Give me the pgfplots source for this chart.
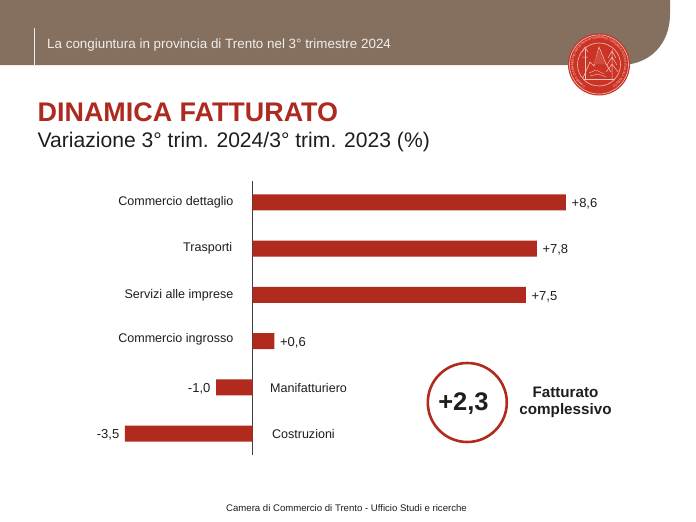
\documentclass[border=0pt]{standalone}
\usepackage{fontspec}
\setmainfont{Liberation Sans}
\usepackage{pgfplots}
\pgfplotsset{compat=1.18}
\usetikzlibrary{decorations.text}
\definecolor{brownhead}{HTML}{85705F}
\definecolor{barred}{HTML}{B02A1E}
\definecolor{sealred}{HTML}{CB3324}
\definecolor{titlered}{HTML}{AD2A20}
\definecolor{ink}{HTML}{1E1E1E}
\begin{document}
\begin{tikzpicture}
\begin{scope}[x=1pt,y=-1pt]
  \path[fill=white] (0,0) rectangle (696,522);
  % header band
  \fill[brownhead] (0,0) -- (670,0) -- (670,14) .. controls (670,44) and (650,65) .. (620,65) -- (0,65) -- cycle;
  \draw[white!85!brownhead,line width=1pt] (34.5,28) -- (34.5,65);
  \node[anchor=west,inner sep=0pt,text=white!88!brownhead,font=\fontsize{13.4}{15}\selectfont] at (47,45) {La congiuntura in provincia di Trento nel 3° trimestre 2024};
  % seal
  \fill[sealred] (599,64.5) circle (31);
  \draw[white!70!sealred,line width=.6pt] (599,64.5) circle (29.5);
  \draw[white!70!sealred,line width=.6pt] (599,64.5) circle (21.5);
  \draw[white!70!sealred,line width=.6pt] (583,78) -- (590,62) -- (594,66) -- (599,47) -- (606,64) -- (611,72);
  \fill[white!12!sealred] (594,64) -- (599,49) -- (605,64) -- cycle;
  \draw[white!70!sealred,line width=.5pt] (584,79) -- (614,79);
  \draw[white!70!sealred,line width=.6pt] (585,49) -- (585,79);
  \draw[white!70!sealred,line width=.5pt] (582,52) -- (585,47) -- (588,52) (582,57) -- (588,57);
  \draw[white!70!sealred,line width=.5pt] (612,79) -- (612,49) (608,58) -- (612,51) -- (616,58) (607,65) -- (612,57) -- (617,65) (606,72) -- (612,64) -- (618,72);
  \draw[white!70!sealred,line width=.4pt] (589,73) -- (596,70) -- (604,74) (590,76) -- (598,74) -- (606,77);
  \path[postaction={decorate,decoration={text along path,text align=center,
     text={|\fontsize{3}{3}\selectfont\color{white!85!sealred}|CAMERA DI COMMERCIO INDUSTRIA ARTIGIANATO TURISMO E AGRICOLTURA DI TRENTO}}}]
     (590.2,88.5) arc[start angle=110,end angle=430,radius=25.6];
  % titles
  \node[anchor=base west,inner sep=0pt,text=titlered,font=\fontsize{26.9}{28}\bfseries\selectfont] at (37.5,121) {DINAMICA FATTURATO};
  \node[anchor=base west,inner sep=0pt,text=ink,font=\fontsize{21.1}{24}\selectfont] at (37.5,147) {Variazione 3° trim. 2024/3° trim. 2023 (\%)};
  % total
  \draw[barred,line width=2.6pt] (467.3,402.5) circle (39.5);
  \node[text=ink,font=\fontsize{25.5}{26}\bfseries\selectfont] at (463.5,403.5) {+2,3};
  \node[text=ink,align=center,font=\fontsize{15.2}{17.5}\bfseries\selectfont] at (565.5,402.5) {Fatturato\\complessivo};
  % footer
  \node[text=ink,font=\fontsize{9.6}{12}\selectfont] at (346.5,508) {Camera di Commercio di Trento - Ufficio Studi e ricerche};
\end{scope}
\begin{axis}[
    at={(100pt,-455pt)}, anchor=south west,
    scale only axis, width=500pt, height=274pt,
    xmin=-4.184, xmax=9.534,
    ymin=-0.465, ymax=5.465, y dir=reverse,
    axis x line=none,
    axis y line=center,
    axis line style={draw=ink!85!white,line width=0.9pt,-},
    xtick=\empty, ytick=\empty,
    clip=false,
    xbar, bar width=16pt, bar shift=0pt,
    point meta=explicit symbolic,
    nodes near coords={\pgfplotspointmeta},
    every node near coord/.append style={text=ink,inner xsep=5.5pt,inner ysep=0pt,yshift=-1.5pt,
        font=\fontsize{13}{14}\selectfont},
  ]
  \addplot[fill=barred,draw=none,every node near coord/.append style={anchor=west}] coordinates {
    (8.6,0) [+8,6]
    (7.8,1) [+7,8]
    (7.5,2) [+7,5]
    (0.6,3) [+0,6]
  };
  \addplot[fill=barred,draw=none,every node near coord/.append style={anchor=east}] coordinates {
    (-1.0,4) [-1,0]
    (-3.5,5) [-3,5]
  };
  \begin{scope}[every node/.style={text=ink,inner sep=0pt,font=\fontsize{12.55}{14}\selectfont}]
    \node[anchor=east] at (axis cs:-0.52,0.0) {Commercio dettaglio};
    \node[anchor=east] at (axis cs:-0.55,1.0) {Trasporti};
    \node[anchor=east] at (axis cs:-0.52,2.0) {Servizi alle imprese};
    \node[anchor=east] at (axis cs:-0.52,2.95) {Commercio ingrosso};
    \node[anchor=west] at (axis cs:0.48,4.02) {Manifatturiero};
    \node[anchor=west] at (axis cs:0.53,5.02) {Costruzioni};
  \end{scope}
\end{axis}
\end{tikzpicture}
\end{document}
